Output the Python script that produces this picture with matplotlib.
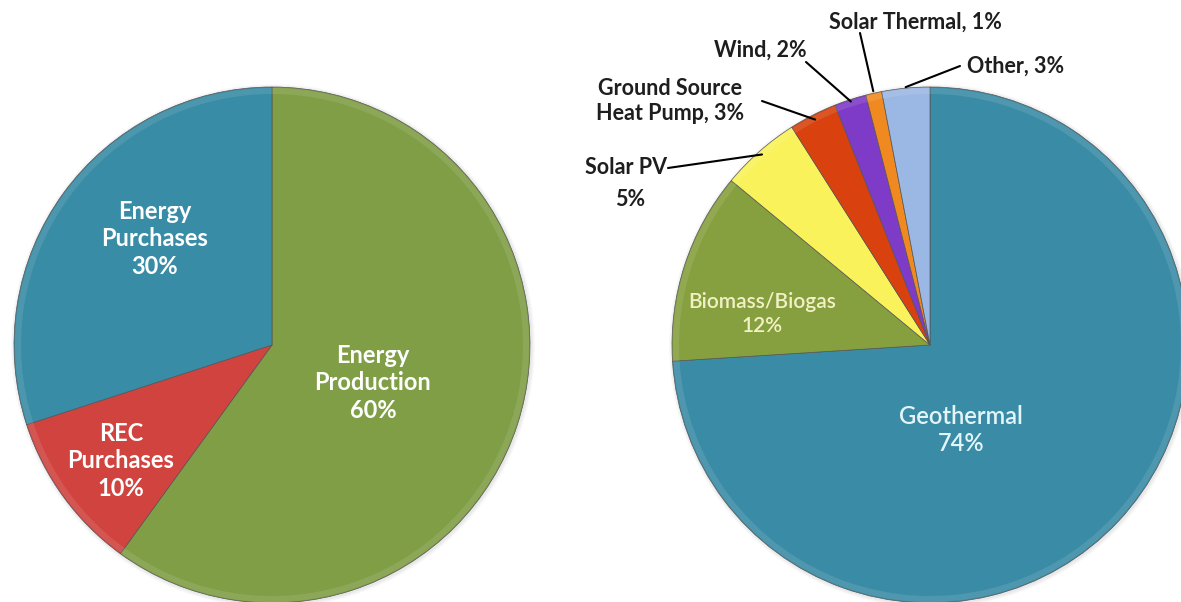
import matplotlib.pyplot as plt
import numpy as np

# left pie: how the footprint is covered
cover_labels = ["Energy\nProduction\n60%", "REC\nPurchases\n10%", "Energy\nPurchases\n30%"]
cover_values = [60, 10, 30]
cover_colors = ["#7F9E45", "#D0433F", "#388CA5"]

# right pie: renewable production by source
source_names = ["Geothermal", "Biomass/Biogas", "Solar PV", "Ground Source\nHeat Pump",
                "Wind", "Solar Thermal", "Other"]
source_values = [74, 12, 5, 3, 2, 1, 3]
source_colors = ["#3A8CA6", "#86A03F", "#F9F25A", "#D9420E", "#7E3BC8", "#F08A20", "#9BB7E3"]

plt.rcParams["font.family"] = ["Lato", "DejaVu Sans"]

fig = plt.figure(figsize=(11.81, 6.02), dpi=100)
ax = fig.add_axes([0, 0, 1, 1])

R = 258
left_c = (272, 257)
right_c = (930, 257)


def edge_point(w, center, r):
    ang = np.deg2rad((w.theta1 + w.theta2) / 2)
    return center[0] + r * np.cos(ang), center[1] + r * np.sin(ang)


# soft shadow under both pies
for c in (left_c, right_c):
    for k, a in zip(range(4), [0.05, 0.05, 0.04, 0.03]):
        ax.add_patch(plt.Circle((c[0] + 1, c[1] - 1), R + 1 + k, color="#777777",
                                alpha=a, lw=0, zorder=0))

lw, _ = ax.pie(cover_values, colors=cover_colors, startangle=90, counterclock=False,
               center=left_c, radius=R, frame=True,
               wedgeprops=dict(edgecolor="#555555", linewidth=0.5))
rw, _ = ax.pie(source_values, colors=source_colors, startangle=90, counterclock=False,
               center=right_c, radius=R, frame=True,
               wedgeprops=dict(edgecolor="#555555", linewidth=0.5))

# lighter rim to give the slices a bevelled look
for vals, c in ((cover_values, left_c), (source_values, right_c)):
    ax.pie(vals, colors=["white"] * len(vals), startangle=90, counterclock=False,
           center=c, radius=R - 1, frame=True,
           wedgeprops=dict(width=6, alpha=0.1, linewidth=0))

ax.set_xlim(0, 1181)
ax.set_ylim(0, 602)
ax.set_aspect("equal")
ax.axis("off")

bold = dict(fontsize=17, fontweight="bold", color="white", ha="center", va="center",
            linespacing=1.22)
ax.text(155, 602 - 239, cover_labels[2], **bold)
ax.text(373, 602 - 383, cover_labels[0], **bold)
ax.text(121, 602 - 461, cover_labels[1], **bold)

# inside labels on the right pie
ax.text(961, 602 - 430, f"{source_names[0]}\n{source_values[0]}%", fontsize=17,
        fontweight="semibold", color="#E4F5FA", ha="center", va="center", linespacing=1.25)
ax.text(762, 602 - 314, f"{source_names[1]}\n{source_values[1]}%", fontsize=15,
        fontweight="semibold", color="#F2F1C6", ha="center", va="center", linespacing=1.3)

# outside labels with leader lines
outer = dict(fontsize=15.5, fontweight="bold", color="#1e1e1e", linespacing=1.2)
line = dict(arrowstyle="-", color="black", lw=1.5, shrinkA=0, shrinkB=0)

ax.text(626, 602 - 168, "Solar PV", ha="center", va="center", **outer)
ax.text(630, 602 - 200, f"{source_values[2]}%", ha="center", va="center", **outer)
ax.annotate("", xy=edge_point(rw[2], right_c, R - 4), xytext=(668, 602 - 168), arrowprops=line)

ax.text(670, 602 - 101, f"Ground Source\nHeat Pump, {source_values[3]}%", ha="center",
        va="center", **outer)
ax.annotate("", xy=edge_point(rw[3], right_c, R - 5), xytext=(762, 602 - 101), arrowprops=line)

ax.text(760, 602 - 50, f"{source_names[4]}, {source_values[4]}%", ha="center", va="center", **outer)
ax.annotate("", xy=edge_point(rw[4], right_c, R - 2), xytext=(806, 602 - 62), arrowprops=line)

ax.text(915, 602 - 22, f"{source_names[5]}, {source_values[5]}%", ha="center", va="center", **outer)
ax.annotate("", xy=edge_point(rw[5], right_c, R + 2), xytext=(860, 602 - 33), arrowprops=line)

ax.text(1016, 602 - 66, f"{source_names[6]}, {source_values[6]}%", ha="center", va="center", **outer)
ax.annotate("", xy=edge_point(rw[6], right_c, R + 1), xytext=(960, 602 - 66), arrowprops=line)

fig.savefig("out.png", dpi=100)
